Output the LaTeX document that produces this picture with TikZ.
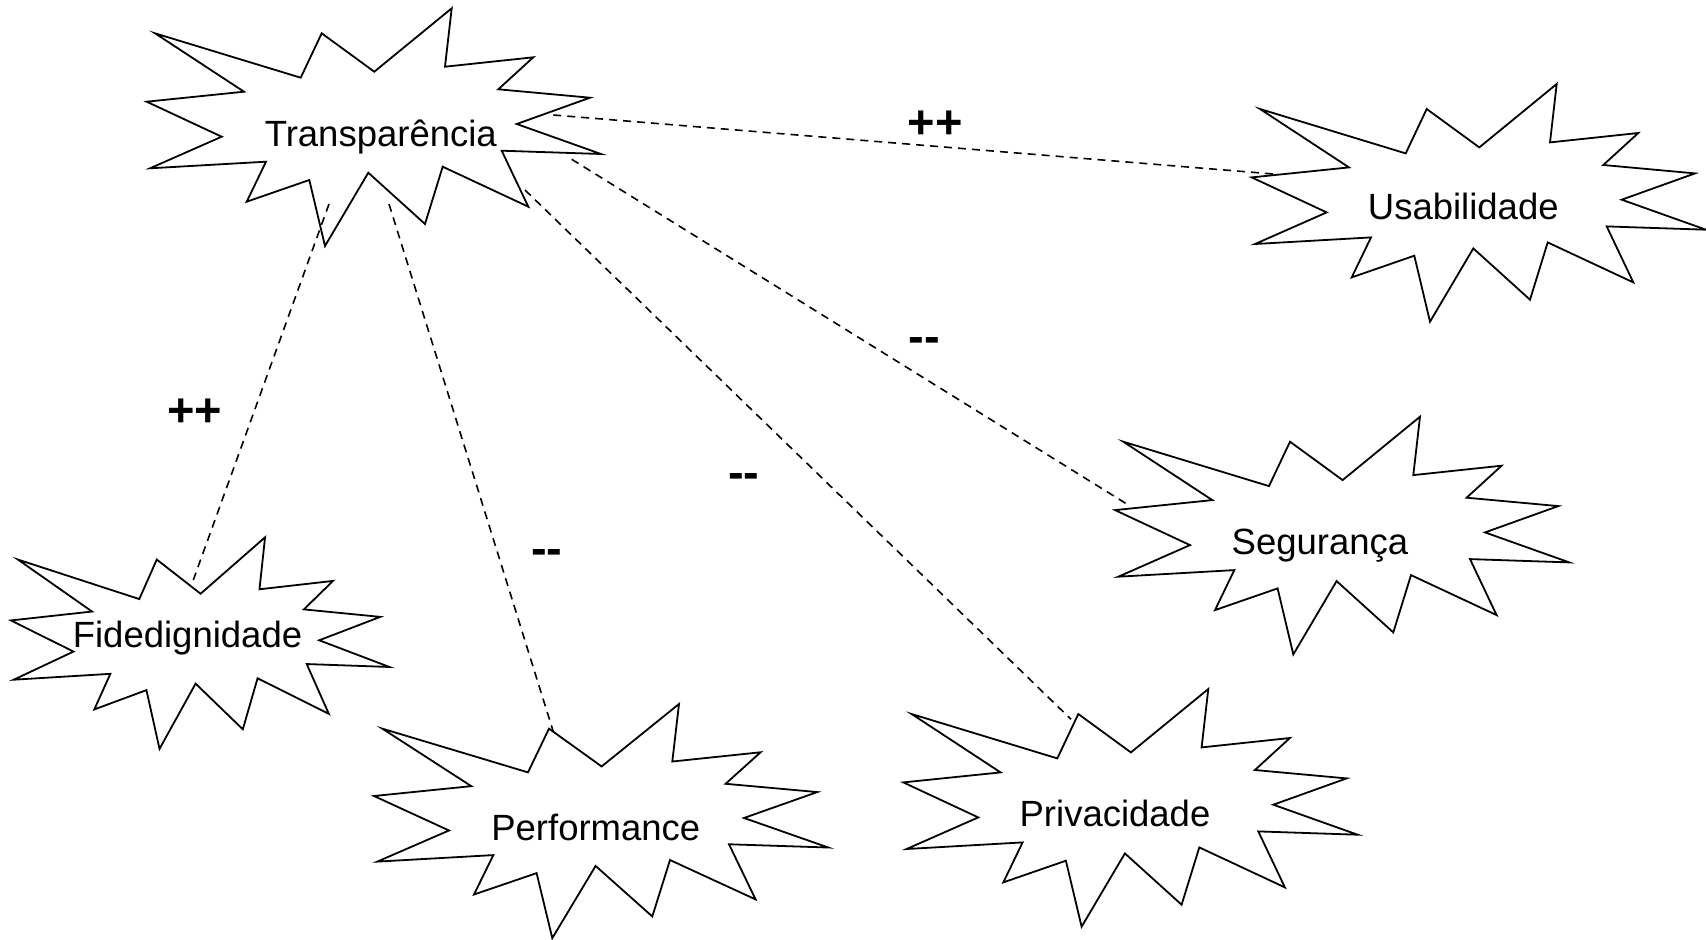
\documentclass[tikz,border=0pt]{standalone}
\usepackage{fontspec}
\setmainfont{Liberation Sans}
\begin{document}
\begin{tikzpicture}[x=1pt,y=-1pt,
  starline/.style={draw=black,line width=1.8pt,line join=miter},
  lbl/.style={inner sep=0pt,anchor=base,font=\fontsize{36.5}{44}\selectfont},
  sign/.style={inner sep=0pt,anchor=base,font=\fontsize{47}{56}\selectfont\bfseries},
  link/.style={draw=black,line width=1.6pt,dash pattern=on 8pt off 6pt},
  burst/.pic={\draw[starline] (8.3,25) -- (154,69.4) -- (175,25) -- (227.6,63.4) -- (305,0) -- (298.3,58.4) -- (386.6,49) -- (351.6,81) -- (443.3,89.4) -- (370,115.7) -- (454.3,145.7) -- (355,142.4) -- (381.6,198.4) -- (296,158.4) -- (278.3,215.7) -- (221.6,164.4) -- (178.3,237.7) -- (162.6,171.7) -- (100,193.4) -- (119.3,153.4) -- (3.3,160) -- (75,128.4) -- (0,93.4) -- (97.3,83.4) -- cycle;}
]
\useasboundingbox[fill=white] (0,0) rectangle (1706,940);

% stars
\pic at (146.7,8.3) {burst};
\pic at (1251.7,84) {burst};
\pic[xscale=0.833,yscale=0.89] at (11,537.3) {burst};
\pic[yscale=0.985] at (374,704) {burst};
\pic at (1115,416.7) {burst};
\pic at (903.3,689) {burst};

% labels
\node[lbl] (tr) at (380.8,146.7) {Transparência};
\node[lbl] (us) at (1463.3,219.3) {Usabilidade};
\node[lbl] (fi) at (187.5,647.7) {Fidedignidade};
\node[lbl] (pe) at (595.8,840.7) {Performance};
\node[lbl] (se) at (1320,554) {Segurança};
\node[lbl] (pr) at (1115,826) {Privacidade};

% connector end points
\coordinate (tU) at (553.3,115);
\coordinate (uT) at (1273.3,174);
\coordinate (tF) at (329,204);
\coordinate (fT) at (193.3,580);
\coordinate (tP) at (389,204);
\coordinate (pT) at (553.3,731.7);
\coordinate (tR) at (525,190);
\coordinate (rT) at (1071,719.3);
\coordinate (tS) at (571.7,159.3);
\coordinate (sT) at (1130,506);

\draw[link] (tU) -- (uT);
\draw[link] (tF) -- (fT);
\draw[link] (tP) -- (pT);
\draw[link] (tR) -- (rT);
\draw[link] (tS) -- (sT);

% signs
\node[sign] (s1) at (935,138) {++};
\node[sign] (s2) at (924.5,352) {-{}-};
\node[sign] (s3) at (194.5,426) {++};
\node[sign] (s4) at (743.8,488) {-{}-};
\node[sign] (s5) at (546.7,564) {-{}-};
\end{tikzpicture}
\end{document}
